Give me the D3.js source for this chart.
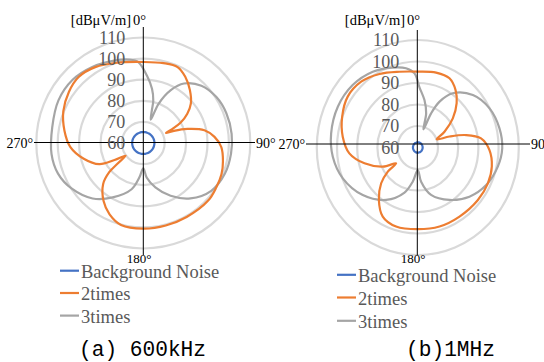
<!DOCTYPE html>
<html>
<head>
<meta charset="utf-8">
<script src="https://cdn.jsdelivr.net/npm/d3@7"></script>
<style>
  body { margin: 0; background: #fff; }
  svg { display: block; }
</style>
</head>
<body>
<svg width="544" height="362"></svg>
<script>
// data: angle (deg, clockwise from top) and level in dBuV/m
let ringTicks = [60, 70, 80, 90, 100, 110];
let seriesNames = ["Background Noise", "2times", "3times"];
let axisLabels = ["0°", "90°", "180°", "270°"];

// (a) 600kHz
let noise600 = 65.2;
let deg2x600 = [0, 14, 24, 32, 41, 50, 56, 61, 64, 66, 68, 72, 78, 85, 93, 103, 112, 122, 132, 150, 165, 180, 195, 205, 214, 224, 229, 231, 234, 239, 244, 255, 267, 279, 292, 305, 316, 328, 342];
let db2x600 = [98.4, 99, 99.4, 97, 93.2, 89, 84.8, 80, 75, 71.6, 75.4, 81.7, 89.2, 93.4, 96.5, 98.2, 99.4, 100.1, 100.8, 100.5, 100.5, 100.6, 100.2, 97.3, 93.2, 87, 81.1, 75.4, 70.2, 75.7, 82.9, 88.8, 94.2, 97.3, 100.3, 102.4, 103.5, 102.4, 100];
let deg3x600 = [3, 9, 13, 14.5, 17.5, 21, 27, 34, 45, 57.5, 70, 84, 97, 111, 125.5, 140, 153, 165, 174.5, 180, 186.5, 194, 209, 222, 237, 250, 263, 280, 297, 312, 326.5, 340, 351, 356.5];
let db3x600 = [92, 86, 80.7, 75.9, 71.6, 79.9, 88, 94, 98.4, 100.5, 101.3, 101.5, 101.3, 100.8, 99, 94.3, 88.1, 81.8, 76.4, 72, 76.5, 82.6, 89.5, 95.4, 99.8, 102.4, 103.2, 103.2, 104.5, 104.6, 103.2, 101.4, 100, 98.4];

// (b) 1MHz
let noise1M = 62.4;
let deg2x1M = [0, 14.6, 26, 35, 43, 52, 61, 68, 72, 76.4, 82.3, 92, 103.6, 115.7, 129.4, 147.3, 163.7, 180, 196.3, 208.4, 218.3, 227.5, 233, 235.6, 242.8, 254.4, 265.4, 277.7, 291, 304.3, 317.5, 331, 345.5];
let db2x1M = [95.3, 96, 95.8, 92.6, 88.2, 82, 75.1, 70.1, 76.5, 84.6, 91.6, 95.5, 97.7, 98.5, 98.5, 98.2, 98.3, 98, 98.3, 96.5, 91.1, 84.6, 78.6, 73, 79.5, 87.4, 94, 97.5, 100.1, 102, 101.5, 99.1, 96.4];
let deg3x1M = [1.7, 8.5, 14.6, 18.3, 22.5, 26.8, 34.5, 48.2, 62.9, 77.6, 90.5, 102.7, 117.3, 131.8, 147.2, 163.4, 174.1, 180, 189, 197.4, 212.8, 230.9, 248.9, 264.2, 278.7, 295.6, 312, 327.7, 341.5, 351, 357.3];
let db3x1M = [88, 82.3, 76.4, 68.9, 77.2, 83.9, 90.6, 96.6, 99.9, 101.4, 101.8, 100.6, 98.1, 94.3, 89, 83, 76, 70.5, 76.1, 82, 89, 95.1, 99.8, 102.3, 103.4, 103.9, 103.4, 101.7, 99.2, 97.3, 94.5];

let colors = ["#4472C4", "#ED7D31", "#A5A5A5"];

let svg = d3.select("svg");

// the two panels, the picture is a bit squashed so rx / ry differ
let panels = [
    { cx: 143.3, cy: 143, rx: 107, ry: 105.5, axX: 143.3, axY: 142.5, vy: [27, 255], hx: [34, 255],
      unitX: 131, lbl180x: 139, noise: noise600,
      s2: [deg2x600, db2x600], s3: [deg3x600, db3x600],
      legX: 60, legY: [270.7, 293, 315.6], cap: "(a) 600kHz", capX: 79, capW: 127 },
    { cx: 417.8, cy: 147.5, rx: 101, ry: 107.5, axX: 417.3, axY: 144, vy: [30, 255], hx: [306, 530],
      unitX: 405, lbl180x: 413, noise: noise1M,
      s2: [deg2x1M, db2x1M], s3: [deg3x1M, db3x1M],
      legX: 337, legY: [274.8, 297.5, 320.8], cap: "(b)1MHz", capX: 406, capW: 89 }
];

let r = d3.scaleLinear().domain([60, 110]).range([0, 100]);

let line = d3.lineRadial()
    .angle(function (d) { return d[0] * Math.PI / 180; })
    .radius(function (d) { return r(d[1]); })
    .curve(d3.curveCatmullRomClosed.alpha(0.5));

let serif = "Liberation Serif, Times New Roman, serif";

panels.forEach(function (p) {
    let g = svg.append("g");

    // rings + curves in a scaled group so the ellipse shape matches
    let plot = g.append("g")
        .attr("transform", "translate(" + p.cx + "," + p.cy + ")scale(" + (p.rx / 100) + "," + (p.ry / 100) + ")");

    plot.selectAll("circle.ring")
        .data(ringTicks.slice(1))
        .enter().append("circle")
        .attr("class", "ring")
        .attr("r", r)
        .attr("fill", "none")
        .attr("stroke", "#D9D9D9")
        .attr("stroke-width", 2.2)
        .attr("vector-effect", "non-scaling-stroke");

    // axis cross
    g.append("line").attr("x1", p.axX).attr("x2", p.axX).attr("y1", p.vy[0]).attr("y2", p.vy[1])
        .attr("stroke", "#000").attr("stroke-width", 1);
    g.append("line").attr("x1", p.hx[0]).attr("x2", p.hx[1]).attr("y1", p.axY).attr("y2", p.axY)
        .attr("stroke", "#000").attr("stroke-width", 1);

    // background noise is flat: one level at every angle
    let noisePts = d3.range(0, 360, 10).map(function (a) { return [a, p.noise]; });
    let series = [
        noisePts,
        p.s2[0].map(function (a, i) { return [a, p.s2[1][i]]; }),
        p.s3[0].map(function (a, i) { return [a, p.s3[1][i]]; })
    ];

    plot.selectAll("path.series")
        .data([series[2], series[1], series[0]])
        .enter().append("path")
        .attr("class", "series")
        .attr("d", line)
        .attr("fill", "none")
        .attr("stroke", function (d, i) { return colors[2 - i]; })
        .attr("stroke-width", 2.2)
        .attr("vector-effect", "non-scaling-stroke");

    // level labels along the vertical axis
    g.append("g")
        .selectAll("text")
        .data(ringTicks)
        .enter().append("text")
        .attr("x", p.axX - 18)
        .attr("y", function (d) { return p.cy - p.ry * r(d) / 100; })
        .attr("dy", "0.35em")
        .attr("text-anchor", "end")
        .attr("font-family", serif)
        .attr("font-size", 18)
        .attr("fill", "#595959")
        .text(function (d) { return d; });

    g.append("text").attr("x", p.unitX).attr("y", 25).attr("text-anchor", "end")
        .attr("font-family", serif).attr("font-size", 14.5).text("[dBμV/m]");
    g.append("text").attr("x", p.unitX + 2).attr("y", 25)
        .attr("font-family", serif).attr("font-size", 14.5).text(axisLabels[0]);
    g.append("text").attr("x", p.hx[1] + 1).attr("y", p.axY + 5)
        .attr("font-family", serif).attr("font-size", 14).text(axisLabels[1]);
    g.append("text").attr("x", p.lbl180x).attr("y", 262.5).attr("text-anchor", "middle")
        .attr("font-family", serif).attr("font-size", 13).text(axisLabels[2]);
    g.append("text").attr("x", p.hx[0] - 1).attr("y", p.axY + 5).attr("text-anchor", "end")
        .attr("font-family", serif).attr("font-size", 14).text(axisLabels[3]);

    // legend
    let leg = g.append("g")
        .selectAll("g")
        .data(seriesNames)
        .enter().append("g")
        .attr("transform", function (d, i) { return "translate(" + p.legX + "," + (p.legY[i] + 1) + ")"; });
    leg.append("line").attr("x1", 0).attr("x2", 19).attr("y1", -1).attr("y2", -1)
        .attr("stroke", function (d, i) { return colors[i]; }).attr("stroke-width", 2.2);
    leg.append("text").attr("x", 21).attr("dy", "0.35em")
        .attr("font-family", serif).attr("font-size", 18.5).attr("fill", "#595959")
        .text(function (d) { return d; });

    // caption
    g.append("text").attr("x", p.capX).attr("y", 356)
        .attr("font-family", "Liberation Mono, DejaVu Sans Mono, monospace")
        .attr("font-size", 22)
        .attr("textLength", p.capW).attr("lengthAdjust", "spacingAndGlyphs")
        .text(p.cap);
});
</script>
</body>
</html>
